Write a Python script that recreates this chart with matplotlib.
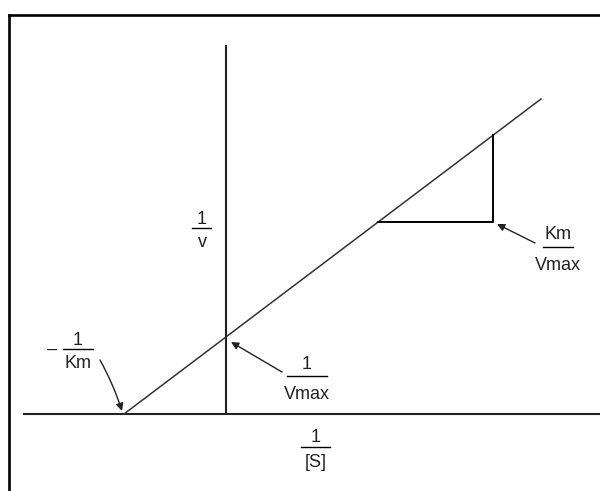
import matplotlib.pyplot as plt
from matplotlib.lines import Line2D

plt.rcParams['font.family'] = ['Liberation Sans', 'DejaVu Sans']

# --- Lineweaver-Burk sketch, units: x = 1/[S], y = 1/v ---
inv_km = -1.02          # x intercept (-1/Km)
inv_vmax = 0.77         # y intercept (1/Vmax)
line_x = [-1.02, 3.15]
line_y = [0.0, 3.15]

# slope triangle (Km/Vmax)
tri_x = [1.52, 2.67, 2.67]
tri_y = [1.92, 1.92, 2.79]

# axes extents
xaxis_x = [-2.03, 3.74]
yaxis_y = [0.0, 3.69]

# fraction labels: (numerator, denominator, x, y_num, y_den, bar half width)
fractions = [
    ("1", "v", -0.24, 1.90, 1.67, 0.095),
    ("1", "Km", -1.48, 0.69, 0.46, 0.15),
    ("1", "Vmax", 0.81, 0.45, 0.15, 0.20),
    ("1", "[S]", 0.895, -0.28, -0.53, 0.145),
    ("Km", "Vmax", 3.32, 1.75, 1.44, 0.15),
]

# arrows: (start, tip, curvature)
arrows = [
    ((-1.26, 0.54), (-1.04, 0.03), -0.05),
    ((0.56, 0.42), (0.05, 0.72), 0.0),
    ((3.09, 1.71), (2.71, 1.90), 0.0),
]

fig = plt.figure(figsize=(6.0, 4.91), dpi=100)
ax = fig.add_axes([0, 0, 1, 1])
ax.set_xlim(-2.26, 3.74)
ax.set_ylim(-0.77, 4.14)
ax.axis('off')

# frame (top and left only)
fig.add_artist(Line2D([8.5 / 600, 1.0], [1 - 14.5 / 491] * 2, color='black', lw=1.9,
                      transform=fig.transFigure))
fig.add_artist(Line2D([8.5 / 600] * 2, [0.0, 1 - 14.5 / 491], color='black', lw=1.9,
                      transform=fig.transFigure))

# axes lines
ax.plot(xaxis_x, [0, 0], color='#222222', lw=1.5, solid_capstyle='butt')
ax.plot([0, 0], yaxis_y, color='#222222', lw=1.5, solid_capstyle='butt')

# the plot line
ax.plot(line_x, line_y, color='#333333', lw=1.1)

# slope triangle
ax.plot(tri_x, tri_y, color='black', lw=1.4)

# labels
for num, den, x, yn, yd, hw in fractions:
    ax.text(x, yn, num, ha='center', va='baseline', fontsize=13, color='#222222')
    ax.text(x, yd, den, ha='center', va='baseline', fontsize=13, color='#222222')
    ybar = (yn + yd) / 2 + 0.08
    ax.plot([x - hw, x + hw], [ybar, ybar], color='black', lw=1.0)

# minus sign in front of 1/Km
ax.text(-1.74, 0.60, "\u2013", ha='center', va='baseline', fontsize=13, color='#222222')

for start, tip, rad in arrows:
    ax.annotate("", xy=tip, xytext=start,
                arrowprops=dict(arrowstyle='-|>', color='#222222', lw=1.0,
                                mutation_scale=11, shrinkA=0, shrinkB=0,
                                connectionstyle=f"arc3,rad={rad}"))

fig.savefig("out.png", dpi=100, facecolor='white')
